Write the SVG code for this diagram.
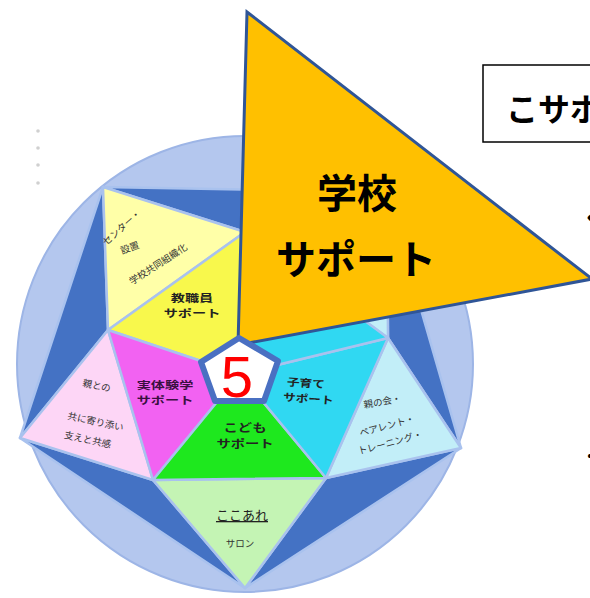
<svg xmlns="http://www.w3.org/2000/svg" width="590" height="598" viewBox="0 0 590 598">
<style>
.edge{stroke:#a9c2ee;stroke-width:2.5;stroke-linejoin:round}
.dark{fill:#4472c4}
.t{font-family:"Noto Sans CJK JP","Noto Sans",sans-serif;fill:#222;text-anchor:middle}
.b{font-weight:bold}
.s{font-size:9.5px;fill:#333}
.m{font-size:10.5px}
.big{font-family:"Noto Sans CJK JP","Noto Sans",sans-serif;font-weight:bold;font-size:40px;fill:#000;text-anchor:middle}
</style>
<rect width="590" height="598" fill="#fff"/>
<g id="dots" fill="#d0d0d0">
<circle cx="38" cy="131" r="1.8"/><circle cx="38" cy="148" r="1.8"/><circle cx="38" cy="165" r="1.8"/><circle cx="38" cy="183" r="1.8"/>
</g>
<g id="background">
<circle cx="245" cy="364" r="228" fill="#b4c7ee" stroke="#9db5e6" stroke-width="2"/>
</g>
<g id="dark-faces">
<polygon class="dark edge" points="387,192 245,232 103,187"/>
<polygon class="dark edge" points="103,187 108,330 20,438"/>
<polygon class="dark edge" points="20,438 153,480 245,588"/>
<polygon class="dark edge" points="245,588 326,478 461,448"/>
<polygon class="dark edge" points="461,448 388,338 387,192"/>
</g>
<g id="node-center-koube">
<polygon class="edge" fill="#ffffa8" points="245,232 108,330 103,187"/>
<text class="t s" transform="translate(124,230) rotate(-42)">センター・</text>
<text class="t s" transform="translate(131,251) rotate(-20)">設置</text>
<text class="t s" transform="translate(160,267) rotate(-33)">学校共同組織化</text>
</g>
<g id="node-oya">
<polygon class="edge" fill="#fdd6f6" points="108,330 153,480 20,438"/>
<text class="t s" transform="translate(96,389) rotate(12)">親との</text>
<text class="t s" transform="translate(95,425) rotate(12)">共に寄り添い</text>
<text class="t s" transform="translate(87,443) rotate(12)">支えと共感</text>
</g>
<g id="node-kokoare">
<polygon class="edge" fill="#c4f4b4" points="153,480 326,478 245,588"/>
<text class="t" style="font-size:13px" x="242" y="520" text-decoration="underline">ここあれ</text>
<text class="t s" x="240" y="547">サロン</text>
</g>
<g id="node-parent">
<polygon class="edge" fill="#c2eef8" points="326,478 388,338 461,448"/>
<text class="t s" transform="translate(383,405) rotate(-10)">親の会・</text>
<text class="t s" transform="translate(388,429) rotate(-15)">ペアレント・</text>
<text class="t s" transform="translate(391,446) rotate(-15)">トレーニング・</text>
</g>
<g id="node-hidden-outer">
<polygon class="edge" fill="#c2eef8" points="388,338 245,232 387,192"/>
</g>
<g id="node-kyoshokuin">
<polygon class="edge" fill="#f8f84c" points="240,374 245,232 108,330"/>
<text class="t b m" transform="translate(192,302) scale(1.35,1)"><tspan x="0" y="0">教職員</tspan><tspan x="0" dy="15.5">サポート</tspan></text>
</g>
<g id="node-jittaiken">
<polygon class="edge" fill="#f262f2" points="240,374 108,330 153,480"/>
<text class="t b m" style="fill:#3a1040" transform="translate(165,389) scale(1.35,1)"><tspan x="0" y="0">実体験学</tspan><tspan x="0" dy="15.5">サポート</tspan></text>
</g>
<g id="node-kodomo">
<polygon class="edge" fill="#1ee81e" points="240,374 153,480 326,478"/>
<text class="t b" style="font-size:11px" transform="translate(245,432) scale(1.3,1)"><tspan x="0" y="0">こども</tspan><tspan x="0" dy="16">サポート</tspan></text>
</g>
<g id="node-kosodate">
<polygon class="edge" fill="#30d8f2" points="240,374 326,478 388,338"/>
<polygon class="edge" fill="#30d8f2" points="240,374 388,338 245,232"/>
<text class="t b m" transform="translate(308,387) rotate(4) scale(1.2,1)"><tspan x="-2" y="0">子育て</tspan><tspan x="1" dy="15.5">サポート</tspan></text>
</g>
<g id="node-gakko-callout">
<polygon points="247,12 592,279 238,345" fill="#ffc000" stroke="#2f5597" stroke-width="3" stroke-linejoin="miter"/>
<text class="big"><tspan x="357" y="208">学校</tspan><tspan x="356" y="274">サポート</tspan></text>
</g>
<g id="node-five">
<polygon points="239,338 278,361 264,401 215,401 201,362" fill="#fff" stroke="#4a70c2" stroke-width="6" stroke-linejoin="round"/>
<text x="237" y="397" style="font-family:'Liberation Sans',Arial,sans-serif;font-size:58px;fill:#ff0000;text-anchor:middle">5</text>
</g>
<g id="node-kosapo-box">
<rect x="483" y="65" width="130" height="77" fill="#fff" stroke="#000" stroke-width="1.5"/>
<text x="506" y="121" style="font-family:'Noto Sans CJK JP','Noto Sans',sans-serif;font-weight:bold;font-size:32px;fill:#000">こサポ</text>
</g>
<g id="edge-text" style="font-family:'Noto Sans CJK JP',sans-serif;font-weight:bold;fill:#000">
<text x="584" y="226" style="font-size:20px">く</text>
<text x="582" y="462" style="font-size:16px">・</text>
</g>
<g id="connectors"/>
</svg>
